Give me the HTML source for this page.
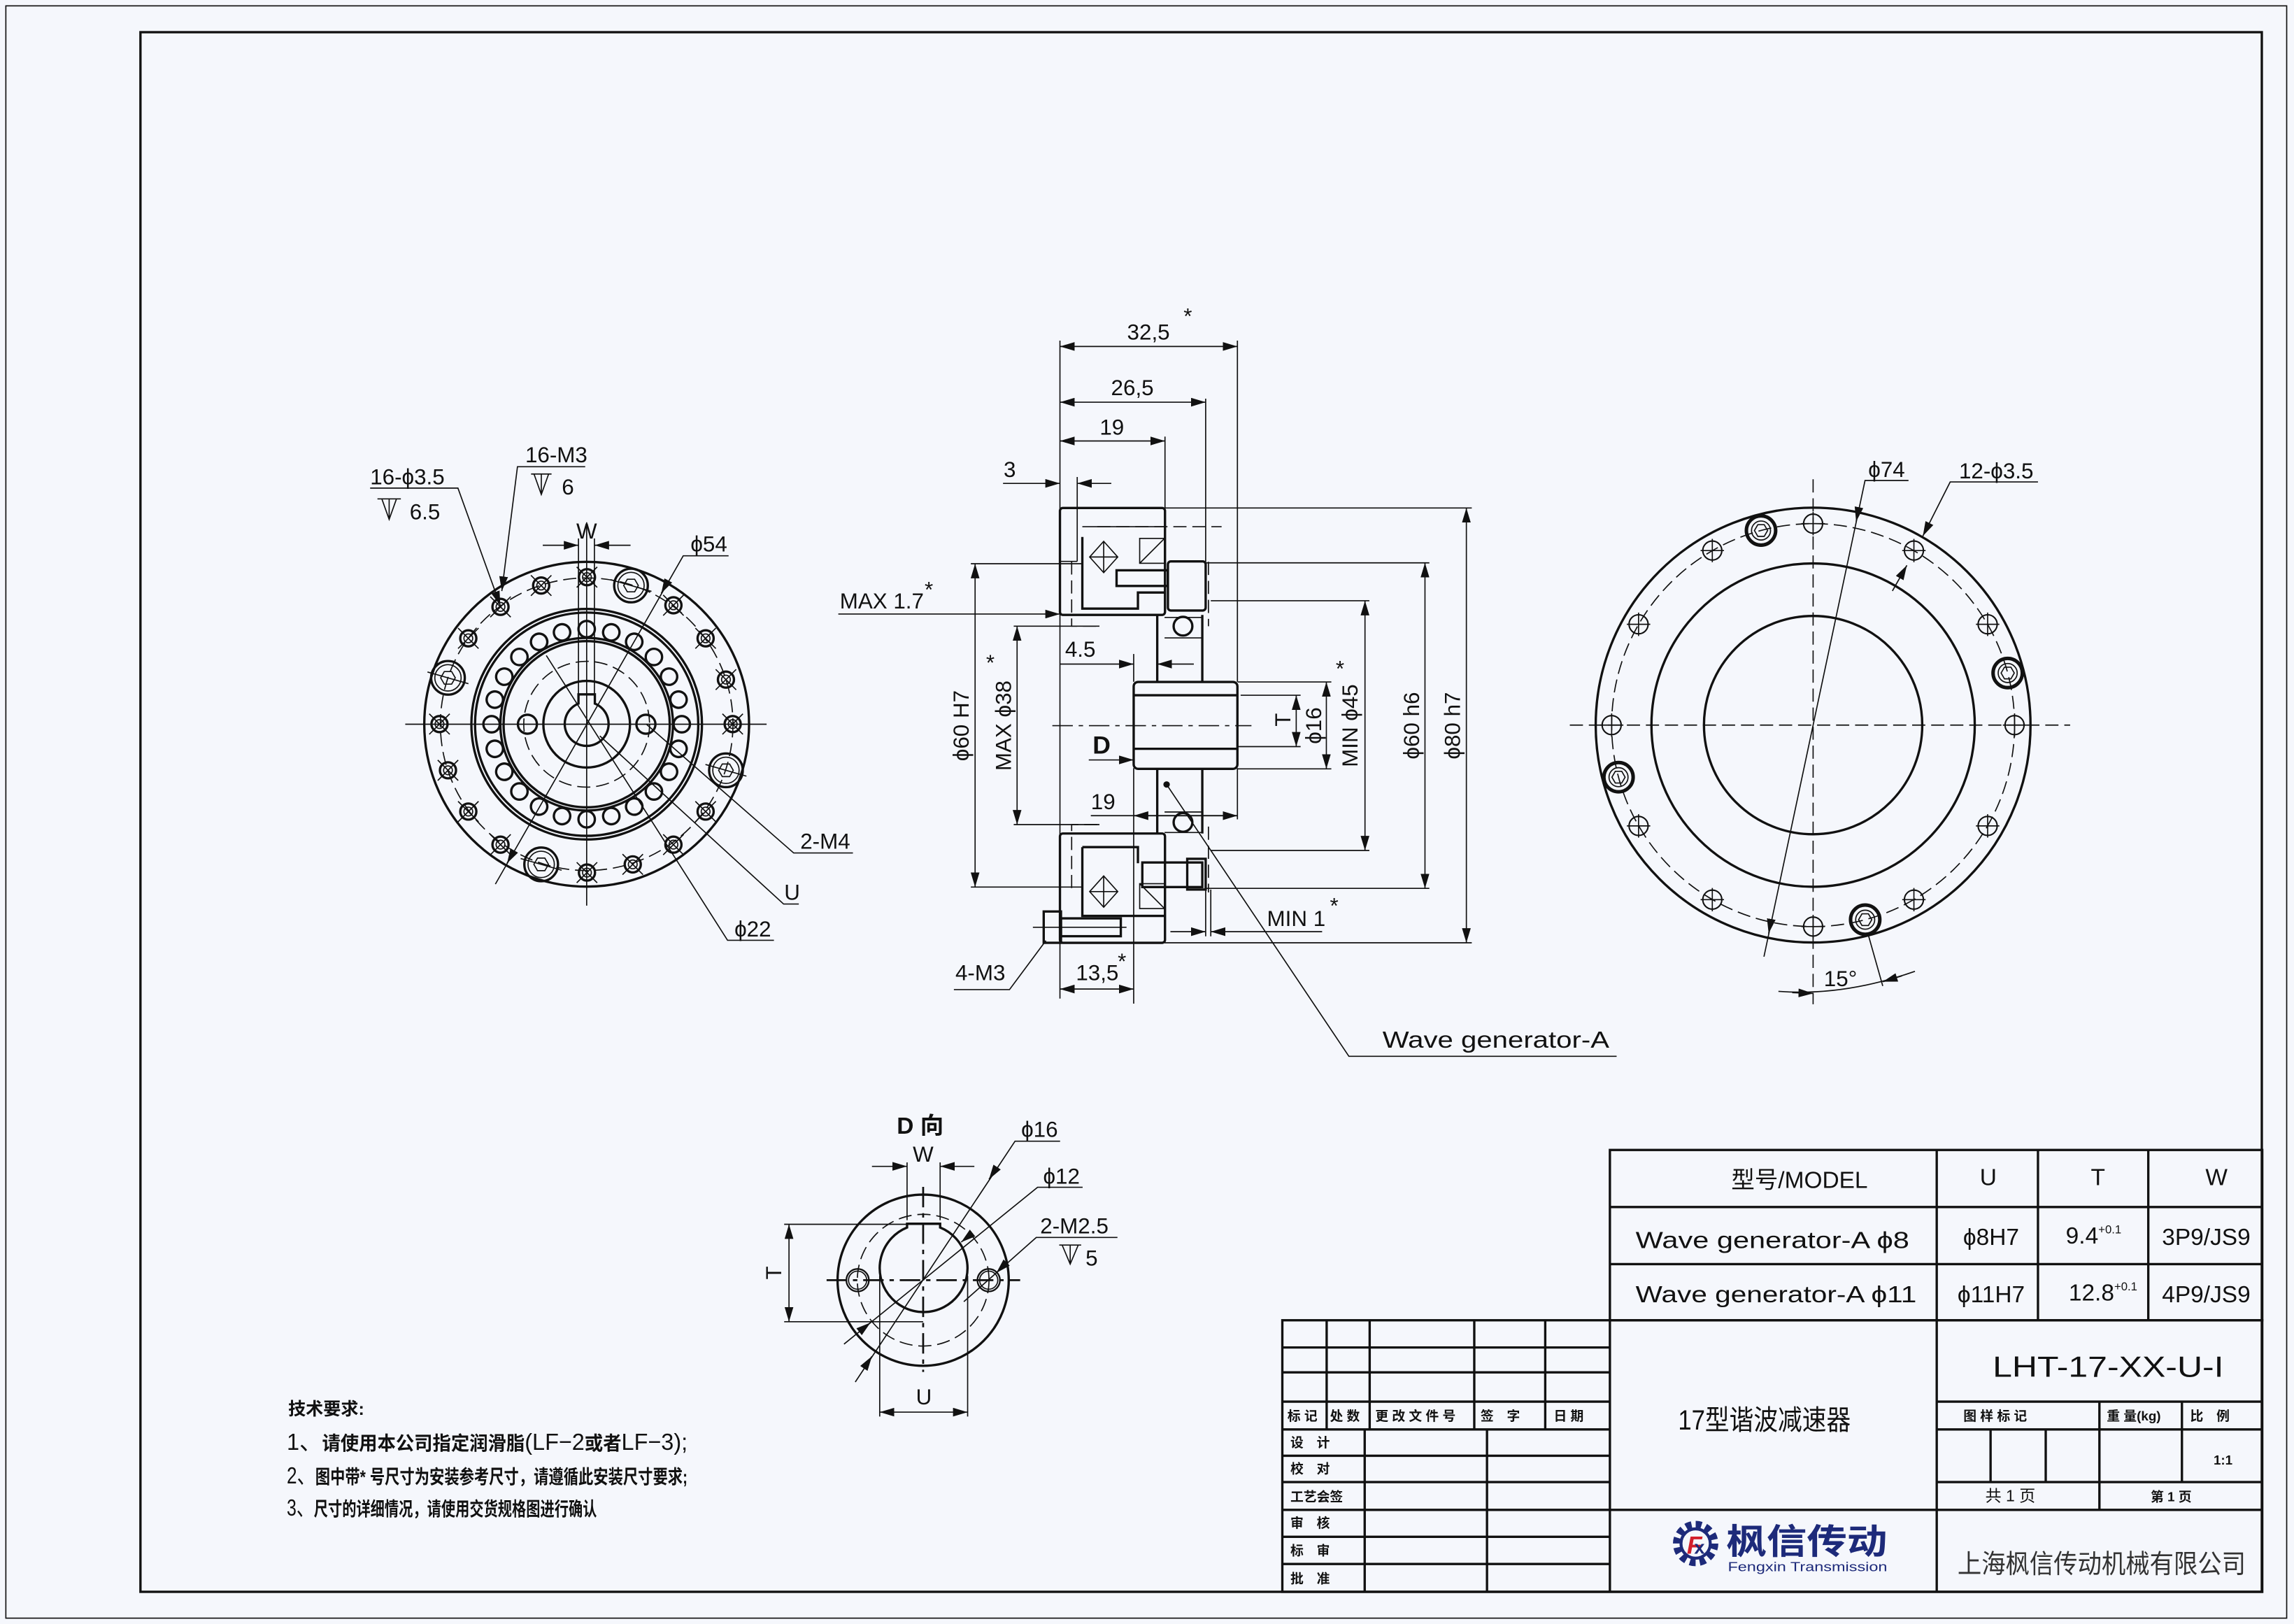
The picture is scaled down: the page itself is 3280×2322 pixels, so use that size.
<!DOCTYPE html>
<html><head><meta charset="utf-8"><style>
html,body{margin:0;padding:0;background:#f5f7fc;}
svg{display:block;}
text{font-family:"Liberation Sans","Noto Sans CJK SC",sans-serif;fill:#111;}
.t{stroke:#111;stroke-width:1.6;fill:none;}
.n{stroke:#111;stroke-width:0.8;fill:none;}
.d{stroke:#111;stroke-width:0.8;fill:none;stroke-dasharray:9 4;}
.c{stroke:#111;stroke-width:0.8;fill:none;stroke-dasharray:14 4 3 4;}
.dim{font-size:15px;}
.cj{font-family:"Liberation Sans","Noto Sans CJK SC",sans-serif;}
.b{font-weight:bold;}
</style></head><body>
<svg width="3280" height="2322" viewBox="0 0 1568 1110" preserveAspectRatio="none" xmlns="http://www.w3.org/2000/svg">
<defs>
<marker id="a" markerUnits="userSpaceOnUse" markerWidth="10" markerHeight="6" refX="10" refY="3" orient="auto-start-reverse"><path d="M0,0 L10,3 L0,6 z" fill="#111"/></marker>
<g id="sh"><circle r="5.5" class="t"/><circle r="3" class="n"/><path d="M-7,-7 L7,7 M-7,7 L7,-7" class="n"/></g>
<g id="lh"><circle r="11.5" class="t"/><circle r="9" class="n"/><path d="M-5,0 L-2.5,-4.3 L2.5,-4.3 L5,0 L2.5,4.3 L-2.5,4.3 z" class="n"/><path d="M-14,-4 L14,4" class="n"/></g>
<g id="rh"><circle r="6.5" class="n" style="stroke-width:1"/><path d="M-8,0 H8 M0,-8 V8" class="n"/></g>
<g id="rl"><circle r="10" class="t" style="stroke-width:2.4"/><path d="M-4.5,0 L-2.2,-4 L2.2,-4 L4.5,0 L2.2,4 L-2.2,4 z" class="n"/><circle r="6.5" class="n"/></g>
</defs>
<rect x="0" y="0" width="1568" height="1110" fill="#f5f7fc"/>
<rect x="4" y="4" width="1559" height="1102" class="n"/>
<rect x="96" y="22" width="1450" height="1066" class="t"/>

<!-- LEFT VIEW -->
<g>
<circle cx="401" cy="495" r="111" class="t"/>
<circle cx="401" cy="495" r="100" class="d"/>
<circle cx="401" cy="495" r="78.8" class="t"/>
<circle cx="401" cy="495" r="76.3" class="t"/>
<circle cx="401" cy="495" r="59" class="t"/>
<circle cx="401" cy="495" r="56.8" class="t"/>
<circle cx="401" cy="495" r="43" class="d"/>
<circle cx="401" cy="495" r="29.6" class="t"/>
<path d="M395.4,480.9 A15,15 0 1 0 406.6,480.9 V474.6 H395.4 Z" class="t"/>
<circle cx="360.5" cy="495" r="6.5" class="t"/>
<circle cx="441.5" cy="495" r="6.5" class="t"/>
<g>
<circle cx="466" cy="495" r="5.6" class="t" transform="rotate(0 401 495)"/><circle cx="466" cy="495" r="5.6" class="t" transform="rotate(15 401 495)"/><circle cx="466" cy="495" r="5.6" class="t" transform="rotate(30 401 495)"/><circle cx="466" cy="495" r="5.6" class="t" transform="rotate(45 401 495)"/><circle cx="466" cy="495" r="5.6" class="t" transform="rotate(60 401 495)"/><circle cx="466" cy="495" r="5.6" class="t" transform="rotate(75 401 495)"/><circle cx="466" cy="495" r="5.6" class="t" transform="rotate(90 401 495)"/><circle cx="466" cy="495" r="5.6" class="t" transform="rotate(105 401 495)"/><circle cx="466" cy="495" r="5.6" class="t" transform="rotate(120 401 495)"/><circle cx="466" cy="495" r="5.6" class="t" transform="rotate(135 401 495)"/><circle cx="466" cy="495" r="5.6" class="t" transform="rotate(150 401 495)"/><circle cx="466" cy="495" r="5.6" class="t" transform="rotate(165 401 495)"/><circle cx="466" cy="495" r="5.6" class="t" transform="rotate(180 401 495)"/><circle cx="466" cy="495" r="5.6" class="t" transform="rotate(195 401 495)"/><circle cx="466" cy="495" r="5.6" class="t" transform="rotate(210 401 495)"/><circle cx="466" cy="495" r="5.6" class="t" transform="rotate(225 401 495)"/><circle cx="466" cy="495" r="5.6" class="t" transform="rotate(240 401 495)"/><circle cx="466" cy="495" r="5.6" class="t" transform="rotate(255 401 495)"/><circle cx="466" cy="495" r="5.6" class="t" transform="rotate(270 401 495)"/><circle cx="466" cy="495" r="5.6" class="t" transform="rotate(285 401 495)"/><circle cx="466" cy="495" r="5.6" class="t" transform="rotate(300 401 495)"/><circle cx="466" cy="495" r="5.6" class="t" transform="rotate(315 401 495)"/><circle cx="466" cy="495" r="5.6" class="t" transform="rotate(330 401 495)"/><circle cx="466" cy="495" r="5.6" class="t" transform="rotate(345 401 495)"/>
</g>
<use href="#sh" x="401.2" y="394.5"/><use href="#sh" x="369.9" y="400.2"/><use href="#sh" x="342.1" y="414.8"/><use href="#sh" x="320.1" y="436.3"/><use href="#sh" x="482.3" y="436.3"/><use href="#sh" x="460.3" y="413.7"/><use href="#sh" x="496.2" y="464.5"/><use href="#sh" x="300.4" y="494.9"/><use href="#sh" x="500.8" y="494.9"/><use href="#sh" x="306.2" y="526.5"/><use href="#sh" x="320.1" y="554.7"/><use href="#sh" x="342.1" y="577.3"/><use href="#sh" x="401.2" y="596.4"/><use href="#sh" x="432.5" y="590.8"/><use href="#sh" x="460.3" y="577.3"/><use href="#sh" x="482.3" y="554.7"/>
<use href="#lh" x="431.3" y="400.2"/><use href="#lh" x="306.2" y="463.3"/><use href="#lh" x="496.2" y="526.5"/><use href="#lh" x="369.9" y="590.8"/>
<path d="M277,495 H524 M401,357 V619" class="n"/>
<text x="253" y="331" class="dim">16-ϕ3.5</text>
<path d="M253,333.6 H313 L342,414" class="n" marker-end="url(#a)"/>
<path d="M258,341 H274 M261,341 L266,355 L271,341 M266,341 V355" class="n"/>
<text x="280" y="355" class="dim">6.5</text>
<text x="359" y="316" class="dim">16-M3</text>
<path d="M400,319 H353.7 L343,404" class="n" marker-end="url(#a)"/>
<path d="M363,324 H377 M365,324 L370,338 L375,324 M370,324 V338" class="n"/>
<text x="384" y="338" class="dim">6</text>
<text x="401" y="368" class="dim" text-anchor="middle">W</text>
<line x1="371" y1="372.7" x2="395.4" y2="372.7" class="n" marker-end="url(#a)"/>
<line x1="406.3" y1="372.7" x2="431" y2="372.7" class="n" marker-start="url(#a)"/>
<path d="M395.4,368 V476 M406.3,368 V476" class="n"/>
<text x="472" y="377" class="dim">ϕ54</text>
<path d="M498,379.9 H467 L338.6,604.3" class="n"/>
<line x1="455" y1="400" x2="452" y2="405.5" class="n" marker-end="url(#a)"/>
<line x1="350" y1="584" x2="346.6" y2="590" class="n" marker-end="url(#a)"/>
<text x="547" y="580" class="dim">2-M4</text>
<path d="M583,583 H542.5 L441.7,494.9" class="n"/>
<text x="536" y="615" class="dim">U</text>
<path d="M546,617.9 H535.6 L410,503" class="n"/>
<text x="502" y="640" class="dim">ϕ22</text>
<path d="M529,642.7 H497.3 L373.4,448" class="n"/>
</g>

<!-- SIDE VIEW -->
<g>
<path d="M724.5,232.8 V682.5 M845.8,232.8 V466 M824.1,272.5 V384 M796.3,298.4 V347.2 M736.3,326 V347.2" class="n"/>
<line x1="724.5" y1="236.8" x2="845.8" y2="236.8" class="n" marker-start="url(#a)" marker-end="url(#a)"/>
<text x="785" y="232" class="dim" text-anchor="middle">32,5</text><text x="809" y="221" class="dim">*</text>
<line x1="724.5" y1="274.9" x2="824.1" y2="274.9" class="n" marker-start="url(#a)" marker-end="url(#a)"/>
<text x="774" y="270" class="dim" text-anchor="middle">26,5</text>
<line x1="724.5" y1="301.4" x2="796.3" y2="301.4" class="n" marker-start="url(#a)" marker-end="url(#a)"/>
<text x="760" y="297" class="dim" text-anchor="middle">19</text>
<line x1="685.6" y1="330.4" x2="724.5" y2="330.4" class="n" marker-end="url(#a)"/>
<line x1="736.3" y1="330.4" x2="759.6" y2="330.4" class="n" marker-start="url(#a)"/>
<text x="686" y="326" class="dim">3</text>
<rect x="724.5" y="347.2" width="71.8" height="73.1" rx="2" class="t"/>
<path d="M736.3,347.2 V383.7 M724.5,383.7 H736.3 M739.8,360 H796.3" class="n"/>
<path d="M739.8,367 V416 H777.8 V405 H796.3" class="t"/>
<path d="M754.4,370 L764,380.7 L754.4,391.4 L744.8,380.7 Z M744.8,380.7 H764 M754.4,370 V391.4" class="n"/>
<rect x="779" y="368" width="17" height="17" class="n"/><path d="M779,385 L796,368" class="n"/>
<rect x="798.3" y="383.7" width="25.8" height="33.6" rx="2" class="t"/>
<rect x="763.2" y="389.8" width="35" height="10.7" class="t"/>
<path d="M750,360 H835 M732.5,383.7 V428 H751.5 M826,384 V428" class="d"/>
<path d="M791,420.3 V466.1 M821.8,420.3 V466.1" class="t"/>
<circle cx="808.6" cy="428" r="6.4" class="t"/>
<path d="M796,422 H822 M796,436 H822" class="n"/>
<rect x="774.9" y="466.1" width="70.9" height="59.4" rx="3" class="t"/>
<path d="M774.9,475.2 H845.8 M774.9,511.8 H845.8" class="t"/>
<line x1="719.3" y1="496" x2="855.4" y2="496" class="c"/>
<path d="M791,525.5 V569.7 M821.8,525.5 V569.7" class="t"/>
<circle cx="808.6" cy="562.1" r="6.4" class="t"/>
<path d="M796,555 H822 M796,569 H822" class="n"/>
<circle cx="797.4" cy="536.2" r="2.2" fill="#111"/>
<rect x="724.5" y="569.7" width="71.8" height="74.7" rx="2" class="t"/>
<path d="M739.8,579 V626 H796.3 M739.8,579 H777.8 V590" class="t"/>
<path d="M754.4,598.7 L764,609.4 L754.4,620.1 L744.8,609.4 Z M744.8,609.4 H764 M754.4,598.7 V620.1" class="n"/>
<rect x="779" y="604" width="17" height="17" class="n"/><path d="M779,604 L796,621" class="n"/>
<rect x="780.8" y="589.5" width="41" height="16.8" class="t"/>
<rect x="811.5" y="587" width="12.6" height="21" class="t"/>
<path d="M732.5,607 V563.6 H751.5 M826,565 V610" class="d"/>
<rect x="713.4" y="623" width="11.8" height="21.4" class="t"/>
<rect x="725.2" y="627.7" width="40.9" height="12.2" class="t"/>
<path d="M706,633.8 H770" class="n"/>
<path d="M663.6,385.3 H740 M663.6,606.3 H740" class="n"/>
<line x1="666.5" y1="385.3" x2="666.5" y2="606.3" class="n" marker-start="url(#a)" marker-end="url(#a)"/>
<text transform="translate(662,496) rotate(-90)" class="dim" text-anchor="middle">ϕ60 H7</text>
<path d="M692.9,428 H751.5 M692.9,563.6 H751.5" class="n"/>
<line x1="695.2" y1="428" x2="695.2" y2="563.6" class="n" marker-start="url(#a)" marker-end="url(#a)"/>
<text transform="translate(691,496) rotate(-90)" class="dim" text-anchor="middle">MAX ϕ38</text>
<text x="674" y="458" class="dim">*</text>
<text x="574" y="416" class="dim">MAX 1.7</text><text x="632" y="408" class="dim">*</text>
<line x1="573" y1="419.7" x2="724.5" y2="419.7" class="n" marker-end="url(#a)"/>
<text x="728" y="449" class="dim">4.5</text>
<line x1="724.5" y1="453.9" x2="774.9" y2="453.9" class="n" marker-end="url(#a)"/>
<line x1="791" y1="453.9" x2="816" y2="453.9" class="n" marker-start="url(#a)"/>
<path d="M774.9,447 V466" class="n"/>
<text x="753" y="515" class="dim b" text-anchor="middle" style="font-size:17px">D</text>
<line x1="744.2" y1="519.4" x2="774.9" y2="519.4" class="n" marker-end="url(#a)"/>
<text x="754" y="553" class="dim" text-anchor="middle">19</text>
<line x1="745.6" y1="557.5" x2="845.8" y2="557.5" class="n"/>
<line x1="774.9" y1="557.5" x2="845.8" y2="557.5" class="n" marker-start="url(#a)" marker-end="url(#a)"/>
<path d="M774.9,525 V686 M845.8,525 V560" class="n"/>
<path d="M848,475.2 H889 M846,510.3 H889" class="n"/>
<line x1="886" y1="475.2" x2="886" y2="510.3" class="n" marker-start="url(#a)" marker-end="url(#a)"/>
<text transform="translate(882,492) rotate(-90)" class="dim" text-anchor="middle">T</text>
<path d="M846,466.1 H910 M846,525.5 H910" class="n"/>
<line x1="906.6" y1="466.1" x2="906.6" y2="525.5" class="n" marker-start="url(#a)" marker-end="url(#a)"/>
<text transform="translate(903,496) rotate(-90)" class="dim" text-anchor="middle">ϕ16</text>
<path d="M827.6,410.6 H936 M827.6,581.3 H936" class="n"/>
<line x1="933" y1="410.6" x2="933" y2="581.3" class="n" marker-start="url(#a)" marker-end="url(#a)"/>
<text transform="translate(928,496) rotate(-90)" class="dim" text-anchor="middle">MIN ϕ45</text>
<text x="913" y="462" class="dim">*</text>
<path d="M824,384.7 H977 M824,607.2 H977" class="n"/>
<line x1="974" y1="384.7" x2="974" y2="607.2" class="n" marker-start="url(#a)" marker-end="url(#a)"/>
<text transform="translate(970,496) rotate(-90)" class="dim" text-anchor="middle">ϕ60 h6</text>
<path d="M796,347.2 H1006 M796,644.4 H1006" class="n"/>
<line x1="1002.3" y1="347.2" x2="1002.3" y2="644.4" class="n" marker-start="url(#a)" marker-end="url(#a)"/>
<text transform="translate(998,496) rotate(-90)" class="dim" text-anchor="middle">ϕ80 h7</text>
<path d="M824.1,608 V640 M827.6,608 V640" class="n"/>
<line x1="800" y1="636.8" x2="824.1" y2="636.8" class="n" marker-end="url(#a)"/>
<line x1="827.6" y1="636.8" x2="903.7" y2="636.8" class="n" marker-start="url(#a)"/>
<text x="866" y="633" class="dim">MIN 1</text><text x="909" y="624" class="dim">*</text>
<line x1="724.5" y1="676" x2="774.9" y2="676" class="n" marker-start="url(#a)" marker-end="url(#a)"/>
<text x="750" y="670" class="dim" text-anchor="middle">13,5</text><text x="764" y="662" class="dim">*</text>
<text x="653" y="670" class="dim">4-M3</text>
<path d="M652,676.4 H690 L714.9,642.9" class="n"/>
<path d="M797.4,536.2 L922,722 H1105" class="n"/>
<text x="945" y="716" class="dim" style="font-size:16px" textLength="155" lengthAdjust="spacingAndGlyphs">Wave generator-A</text>
</g>

<!-- RIGHT VIEW -->
<g>
<circle cx="1239.3" cy="495.6" r="148.6" class="t"/>
<circle cx="1239.3" cy="495.6" r="137.7" class="d"/>
<circle cx="1239.3" cy="495.6" r="110.5" class="t"/>
<circle cx="1239.3" cy="495.6" r="74.6" class="t"/>
<path d="M1073,495.6 H1415 M1239.3,327.6 V686.4" class="d"/>
<g transform="translate(1239.3 495.6)">
<use href="#rh" x="137.7" y="0"/><use href="#rh" x="119.3" y="68.9"/><use href="#rh" x="68.9" y="119.3"/><use href="#rh" x="0" y="137.7"/><use href="#rh" x="-68.9" y="119.3"/><use href="#rh" x="-119.3" y="68.9"/><use href="#rh" x="-137.7" y="0"/><use href="#rh" x="-119.3" y="-68.9"/><use href="#rh" x="-68.9" y="-119.3"/><use href="#rh" x="0" y="-137.7"/><use href="#rh" x="68.9" y="-119.3"/><use href="#rh" x="119.3" y="-68.9"/>
<use href="#rl" x="-35.6" y="-133"/><use href="#rl" x="133" y="-35.6"/><use href="#rl" x="35.6" y="133"/><use href="#rl" x="-133" y="35.6"/>
</g>
<text x="1277" y="326" class="dim">ϕ74</text>
<path d="M1304.5,328.4 H1274.8 L1205.7,653.9" class="n"/>
<line x1="1270" y1="350" x2="1268.7" y2="356.5" class="n" marker-end="url(#a)"/>
<line x1="1210" y1="632" x2="1208.9" y2="638" class="n" marker-end="url(#a)"/>
<text x="1339" y="327" class="dim">12-ϕ3.5</text>
<path d="M1393,329.4 H1333 L1314.3,366.4" class="n" marker-end="url(#a)"/>
<line x1="1293.5" y1="403.9" x2="1303.4" y2="386.4" class="n" marker-end="url(#a)"/>
<path d="M1215.6,677.6 Q1260,681 1308.9,663.9" class="n"/>
<line x1="1225" y1="678.5" x2="1239.3" y2="679" class="n" marker-end="url(#a)"/>
<line x1="1300" y1="667" x2="1287" y2="671" class="n" marker-end="url(#a)"/>
<path d="M1277,638.9 L1286.9,673.9" class="n"/>
<text x="1258" y="674" class="dim" text-anchor="middle">15°</text>
</g>

<!-- D VIEW -->
<g>
<text x="629" y="775" class="b cj" text-anchor="middle" style="font-size:16px">D 向</text>
<circle cx="631" cy="875" r="58.5" class="t"/>
<circle cx="631" cy="875" r="45" class="d"/>
<path d="M620,839 A30,30 0 1 0 642.6,839 V836.4 H620 Z" class="t"/>
<circle cx="586.2" cy="875" r="7.7" class="n" style="stroke-width:1.1"/><circle cx="586.2" cy="875" r="6.2" class="n"/>
<circle cx="675.8" cy="875" r="7.7" class="n" style="stroke-width:1.1"/><circle cx="675.8" cy="875" r="6.2" class="n"/>
<path d="M565,875 H697.3" class="c" style="stroke-width:1.3"/>
<path d="M631,811.2 V937.7" class="c" style="stroke-width:1.3"/>
<text x="631" y="794" class="dim" text-anchor="middle">W</text>
<path d="M620,794.5 V834 M642.6,794.5 V834" class="n"/>
<line x1="596" y1="797.2" x2="620" y2="797.2" class="n" marker-end="url(#a)"/>
<line x1="642.6" y1="797.2" x2="666" y2="797.2" class="n" marker-start="url(#a)"/>
<text x="698" y="777" class="dim">ϕ16</text>
<path d="M724.6,780 H693.8 L584.6,944.6" class="n"/>
<line x1="680" y1="800" x2="676" y2="806" class="n" marker-end="url(#a)"/>
<line x1="592" y1="933" x2="596" y2="927" class="n" marker-end="url(#a)"/>
<text x="713" y="809" class="dim">ϕ12</text>
<path d="M740,811.5 H709.2 L576.9,918.7" class="n"/>
<line x1="662" y1="845" x2="657" y2="849" class="n" marker-end="url(#a)"/>
<line x1="590" y1="908" x2="595" y2="904" class="n" marker-end="url(#a)"/>
<text x="711" y="843" class="dim">2-M2.5</text>
<path d="M763.8,845.8 H708.3 L658.8,889.7" class="n"/>
<line x1="685" y1="866" x2="681" y2="870" class="n" marker-end="url(#a)"/>
<path d="M724,851 H739 M726,851 L731.5,864 L737,851 M731.5,851 V864" class="n"/>
<text x="742" y="865" class="dim">5</text>
<path d="M536,836.8 H642.6 M536,903.4 H631" class="n"/>
<line x1="539.3" y1="836.8" x2="539.3" y2="903.4" class="n" marker-start="url(#a)" marker-end="url(#a)"/>
<text transform="translate(534,870) rotate(-90)" class="dim" text-anchor="middle">T</text>
<path d="M601.3,872 V968.2 M661.4,872 V968.2" class="n"/>
<line x1="601.3" y1="965.2" x2="661.4" y2="965.2" class="n" marker-start="url(#a)" marker-end="url(#a)"/>
<text x="631.5" y="960" class="dim" text-anchor="middle">U</text>
</g>

<!-- TECH -->
<g class="cj">
<text x="197" y="967" class="b" style="font-size:12px">技术要求:</text>
<text x="196" y="991" style="font-size:13px" textLength="274" lengthAdjust="spacingAndGlyphs"><tspan style="font-size:16px">1、</tspan><tspan class="b">请使用本公司指定润滑脂</tspan><tspan style="font-size:16px">(LF−2</tspan><tspan class="b">或者</tspan><tspan style="font-size:16px">LF−3);</tspan></text>
<text x="196" y="1014" style="font-size:13px" textLength="274" lengthAdjust="spacingAndGlyphs"><tspan style="font-size:16px">2、</tspan><tspan class="b">图中带* 号尺寸为安装参考尺寸，请遵循此安装尺寸要求;</tspan></text>
<text x="196" y="1036" style="font-size:13px" textLength="212" lengthAdjust="spacingAndGlyphs"><tspan style="font-size:16px">3、</tspan><tspan class="b">尺寸的详细情况，请使用交货规格图进行确认</tspan></text>
</g>

<!-- TITLE BLOCK -->
<g>
<rect x="1100.4" y="786" width="445.9" height="116.4" class="t"/>
<path d="M1100.4,825 H1546.3 M1100.4,864 H1546.3 M1323.8,786 V902.4 M1393,786 V902.4 M1468.4,786 V902.4" class="t"/>
<text x="1230" y="812" class="cj" text-anchor="middle" style="font-size:16px">型号/MODEL</text>
<text x="1359" y="810" class="dim" text-anchor="middle" style="font-size:16px">U</text>
<text x="1434" y="810" class="dim" text-anchor="middle" style="font-size:16px">T</text>
<text x="1515" y="810" class="dim" text-anchor="middle" style="font-size:16px">W</text>
<text x="1118" y="853" class="dim" style="font-size:16px" textLength="187" lengthAdjust="spacingAndGlyphs">Wave generator-A ϕ8</text>
<text x="1118" y="890" class="dim" style="font-size:16px" textLength="192" lengthAdjust="spacingAndGlyphs">Wave generator-A ϕ11</text>
<text x="1361" y="851" class="dim" text-anchor="middle" style="font-size:16px">ϕ8H7</text>
<text x="1361" y="890" class="dim" text-anchor="middle" style="font-size:16px">ϕ11H7</text>
<text x="1412" y="850" class="dim" style="font-size:16px">9.4<tspan style="font-size:8px" dy="-7">+0.1</tspan></text>
<text x="1414" y="889" class="dim" style="font-size:16px">12.8<tspan style="font-size:8px" dy="-7">+0.1</tspan></text>
<text x="1508" y="851" class="dim" text-anchor="middle" style="font-size:16px">3P9/JS9</text>
<text x="1508" y="890" class="dim" text-anchor="middle" style="font-size:16px">4P9/JS9</text>

<rect x="876.5" y="902.4" width="669.8" height="185.6" class="t"/>
<path d="M1100.4,902.4 V1088 M1323.8,902.4 V1088 M876.5,921 H1100.4 M876.5,938 H1100.4 M876.5,958 H1100.4 M876.5,977 H1100.4 M876.5,995 H1100.4 M876.5,1013 H1100.4 M876.5,1032 H1546.3 M876.5,1050.4 H1100.4 M876.5,1069 H1100.4" class="t"/>
<path d="M906.8,902.4 V977 M936.2,902.4 V977 M1007.7,902.4 V977 M1056.2,902.4 V977 M932.8,977 V1088 M1016.4,977 V1088" class="t"/>
<path d="M1323.8,958 H1546.3 M1323.8,977 H1546.3 M1323.8,1013 H1546.3 M1435,958 V1032 M1491.4,958 V1013 M1360.6,977 V1013 M1398.3,977 V1013" class="t"/>
<g class="cj b" style="font-size:9px">
<text x="880" y="971">标 记</text><text x="909" y="971">处 数</text><text x="940" y="971">更 改 文 件 号</text><text x="1012" y="971">签　字</text><text x="1062" y="971">日 期</text>
<text x="882" y="989">设　计</text><text x="882" y="1007">校　对</text><text x="882" y="1026">工艺会签</text><text x="882" y="1044">审　核</text><text x="882" y="1063">标　审</text><text x="882" y="1082">批　准</text>
<text x="1342" y="971">图 样 标 记</text><text x="1440" y="971">重 量(kg)</text><text x="1497" y="971">比　例</text>
<text x="1513" y="1001">1:1</text>
<text x="1470" y="1026">第 1 页</text>
</g>
<text x="1357" y="1026" class="cj" style="font-size:11px">共 1 页</text>
<text x="1362" y="941" class="dim" style="font-size:20px" textLength="158" lengthAdjust="spacingAndGlyphs">LHT-17-XX-U-I</text>
<text x="1147" y="977" class="cj" style="font-size:19px" textLength="118" lengthAdjust="spacingAndGlyphs">17型谐波减速器</text>
<text x="1338" y="1075" class="cj" style="font-size:18px;fill:#333" textLength="197" lengthAdjust="spacingAndGlyphs">上海枫信传动机械有限公司</text>
<circle cx="1159" cy="1055" r="13" fill="none" stroke="#1d2a7a" stroke-width="5" stroke-dasharray="4 2.8"/>
<circle cx="1159" cy="1055" r="10" fill="#f5f7fc" stroke="#1d2a7a" stroke-width="2"/>
<text x="1153" y="1062" style="font-size:17px;fill:#d21f2b;font-weight:bold;font-style:italic">F</text>
<text x="1158" y="1062" style="font-size:13px;fill:#1d2a7a;font-weight:bold">x</text>
<text x="1180" y="1062" class="cj b" style="font-size:24px;fill:#1d2a7a" textLength="110" lengthAdjust="spacingAndGlyphs">枫信传动</text>
<text x="1181" y="1074" style="font-size:9px;fill:#1d2a7a" textLength="109" lengthAdjust="spacingAndGlyphs">Fengxin Transmission</text>
</g>
</svg>
</body></html>
